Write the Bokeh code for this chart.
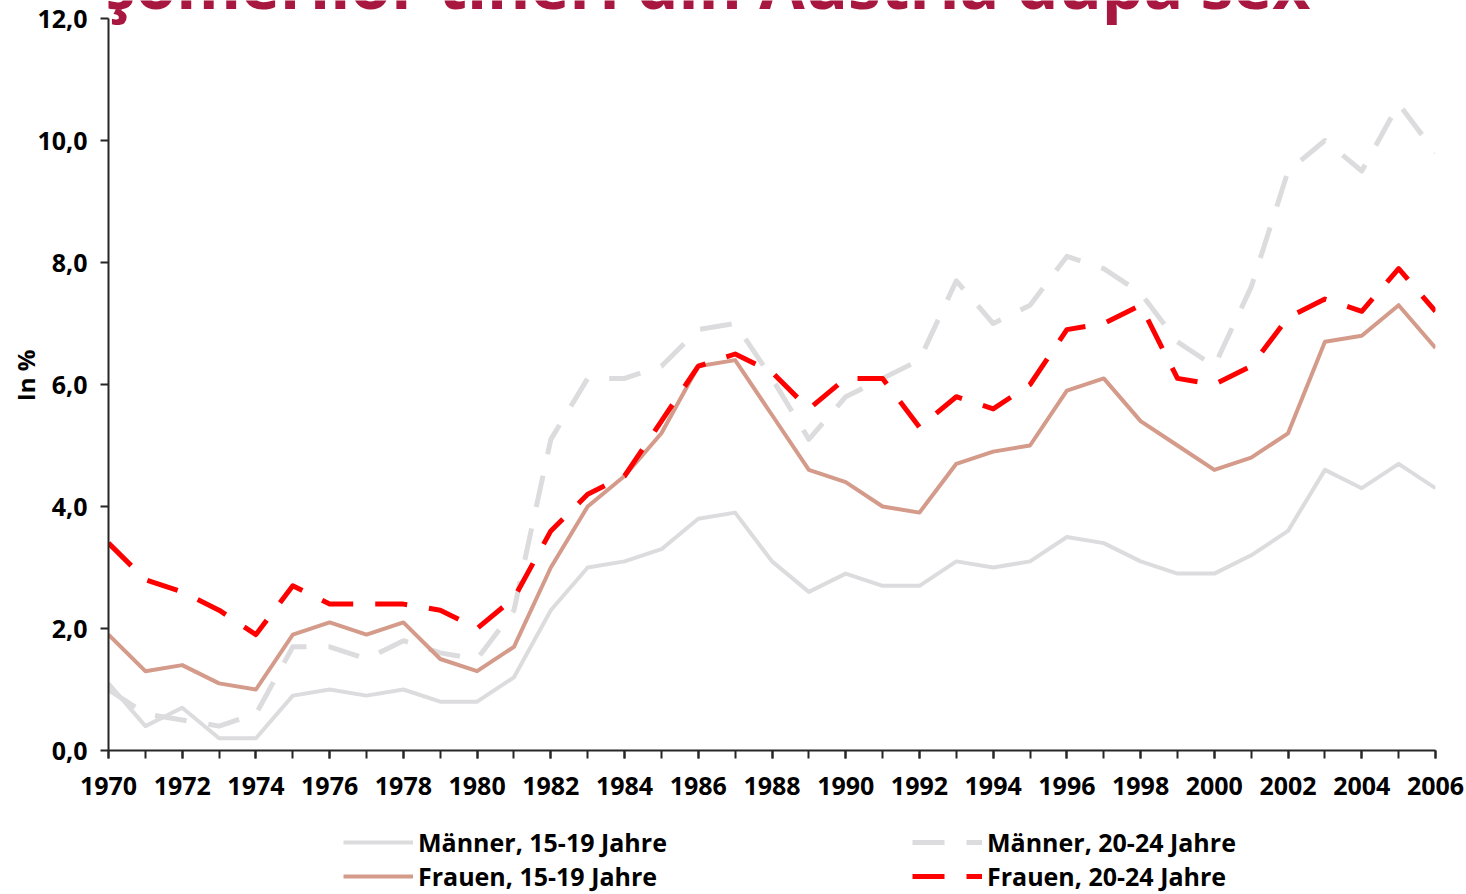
from bokeh.plotting import figure
from bokeh.models import Range1d, FixedTicker, Legend, LegendItem, Label
from bokeh.layouts import column
from bokeh.embed import file_html
from bokeh.resources import INLINE

# ---- data ----
years = list(range(1970, 2007))
maenner_15_19 = [1.1, 0.4, 0.7, 0.2, 0.2, 0.9, 1.0, 0.9, 1.0, 0.8, 0.8, 1.2,
                 2.3, 3.0, 3.1, 3.3, 3.8, 3.9, 3.1, 2.6, 2.9, 2.7, 2.7, 3.1,
                 3.0, 3.1, 3.5, 3.4, 3.1, 2.9, 2.9, 3.2, 3.6, 4.6, 4.3, 4.7,
                 4.3]
maenner_20_24 = [1.0, 0.6, 0.5, 0.4, 0.6, 1.7, 1.7, 1.5, 1.8, 1.6, 1.5, 2.3,
                 5.1, 6.1, 6.1, 6.3, 6.9, 7.0, 6.1, 5.1, 5.8, 6.1, 6.4, 7.7,
                 7.0, 7.3, 8.1, 7.9, 7.5, 6.7, 6.3, 7.6, 9.5, 10.0, 9.5, 10.6,
                 9.8]
frauen_15_19 = [1.9, 1.3, 1.4, 1.1, 1.0, 1.9, 2.1, 1.9, 2.1, 1.5, 1.3, 1.7,
                3.0, 4.0, 4.5, 5.2, 6.3, 6.4, 5.5, 4.6, 4.4, 4.0, 3.9, 4.7,
                4.9, 5.0, 5.9, 6.1, 5.4, 5.0, 4.6, 4.8, 5.2, 6.7, 6.8, 7.3,
                6.6]
frauen_20_24 = [3.4, 2.8, 2.6, 2.3, 1.9, 2.7, 2.4, 2.4, 2.4, 2.3, 2.0, 2.5,
                3.6, 4.2, 4.5, 5.4, 6.3, 6.5, 6.2, 5.6, 6.1, 6.1, 5.3, 5.8,
                5.6, 6.0, 6.9, 7.0, 7.3, 6.1, 6.0, 6.3, 7.1, 7.4, 7.2, 7.9,
                7.2]
series = [maenner_15_19, maenner_20_24, frauen_15_19, frauen_20_24]
series_labels = ["Männer, 15-19 Jahre", "Männer, 20-24 Jahre",
                 "Frauen, 15-19 Jahre", "Frauen, 20-24 Jahre"]
x_major_ticks = list(range(1970, 2007, 2))
y_ticks = [0, 2, 4, 6, 8, 10, 12]
y_tick_labels = ["0,0", "2,0", "4,0", "6,0", "8,0", "10,0", "12,0"]
title_text = "Rata şomerilor tineri din Austria după sex"
y_title = "In %"

FONT = "Open Sans"
AX = "#262626"
STYLES = [dict(line_color="#DCDCDE", line_width=4, line_join="round"),
          dict(line_color="#DCDCDE", line_width=5, line_dash="32 22", line_join="round"),
          dict(line_color="#D49A8A", line_width=4, line_join="round"),
          dict(line_color="#FF0000", line_width=5, line_dash="32 22", line_join="round")]

# frame spans from the canvas top; y = 12 sits 18 px below it
Y_TOP = 12 * 750 / 732
p = figure(title=None, output_backend="svg", toolbar_location=None,
           x_range=Range1d(1970, 2006), y_range=Range1d(0, Y_TOP),
           frame_width=1327, frame_height=750,
           min_border_left=108, min_border_right=29,
           min_border_top=0, min_border_bottom=60)
p.xgrid.visible = False
p.ygrid.visible = False
p.outline_line_color = None

for vals, st in zip(series, STYLES):
    p.line(years, vals, **st)

for ax in (p.xaxis[0], p.yaxis[0]):
    ax.axis_line_color = AX
    ax.axis_line_width = 2
    ax.major_tick_line_color = AX
    ax.major_tick_line_width = 2
    ax.major_tick_in = 0
    ax.major_tick_out = 8
    ax.major_label_text_font = FONT
    ax.major_label_text_font_style = "bold"
    ax.major_label_text_font_size = "25px"
    ax.major_label_text_color = "black"

p.xaxis.ticker = FixedTicker(ticks=x_major_ticks, minor_ticks=years)
p.xaxis.minor_tick_in = 0
p.xaxis.minor_tick_out = 8
p.xaxis.minor_tick_line_color = AX
p.xaxis.minor_tick_line_width = 2
p.xaxis.major_label_standoff = 18
p.xaxis.major_label_overrides = {y: str(y) for y in x_major_ticks}

p.yaxis.ticker = FixedTicker(ticks=y_ticks, minor_ticks=[])
p.yaxis.bounds = (0, 12)
p.yaxis.major_label_overrides = dict(zip(y_ticks, y_tick_labels))
p.yaxis.major_label_standoff = 13
p.yaxis.axis_label = y_title
p.yaxis.axis_label_text_font = FONT
p.yaxis.axis_label_text_font_style = "bold"
p.yaxis.axis_label_text_font_size = "24px"
p.yaxis.axis_label_text_color = "black"
p.yaxis.axis_label_standoff = -8

# title mostly above the page edge, only its lower part shows (as in the reference)
title = Label(x=1202, y=(750 + 18) / 61.0, x_units="screen", y_units="data",
              text=title_text, text_align="right", text_baseline="alphabetic",
              text_font=FONT, text_font_style="bold", text_font_size="66px",
              text_color="#A8173F")
p.add_layout(title)

# ---- legend strips below the chart ----
def legend_strip(idx, top):
    f = figure(title=None, output_backend="svg", toolbar_location=None,
               x_axis_type=None, y_axis_type=None,
               x_range=Range1d(0, 1), y_range=Range1d(0, 1),
               frame_width=1327, frame_height=34,
               min_border_left=108, min_border_right=29,
               min_border_top=top, min_border_bottom=0)
    f.grid.visible = False
    f.outline_line_color = None
    rs = [f.line(years, series[i], **STYLES[i]) for i in idx]   # outside range: only legend glyphs show
    lg = Legend(items=[LegendItem(label=series_labels[i], renderers=[r]) for i, r in zip(idx, rs)],
                orientation="horizontal", location=(235, 0),
                glyph_width=70, glyph_height=34, label_height=34, label_width=494,
                label_standoff=5, spacing=0, padding=0, margin=0,
                border_line_color=None, background_fill_alpha=0)
    lg.label_text_font = FONT
    lg.label_text_font_style = "bold"
    lg.label_text_font_size = "25px"
    lg.label_text_color = "black"
    f.add_layout(lg)
    return f

lf1 = legend_strip([0, 1], 15)
lf2 = legend_strip([2, 3], 0)

layout = column(p, lf1, lf2, spacing=0)
open("out.html", "w").write(file_html(layout, INLINE))
